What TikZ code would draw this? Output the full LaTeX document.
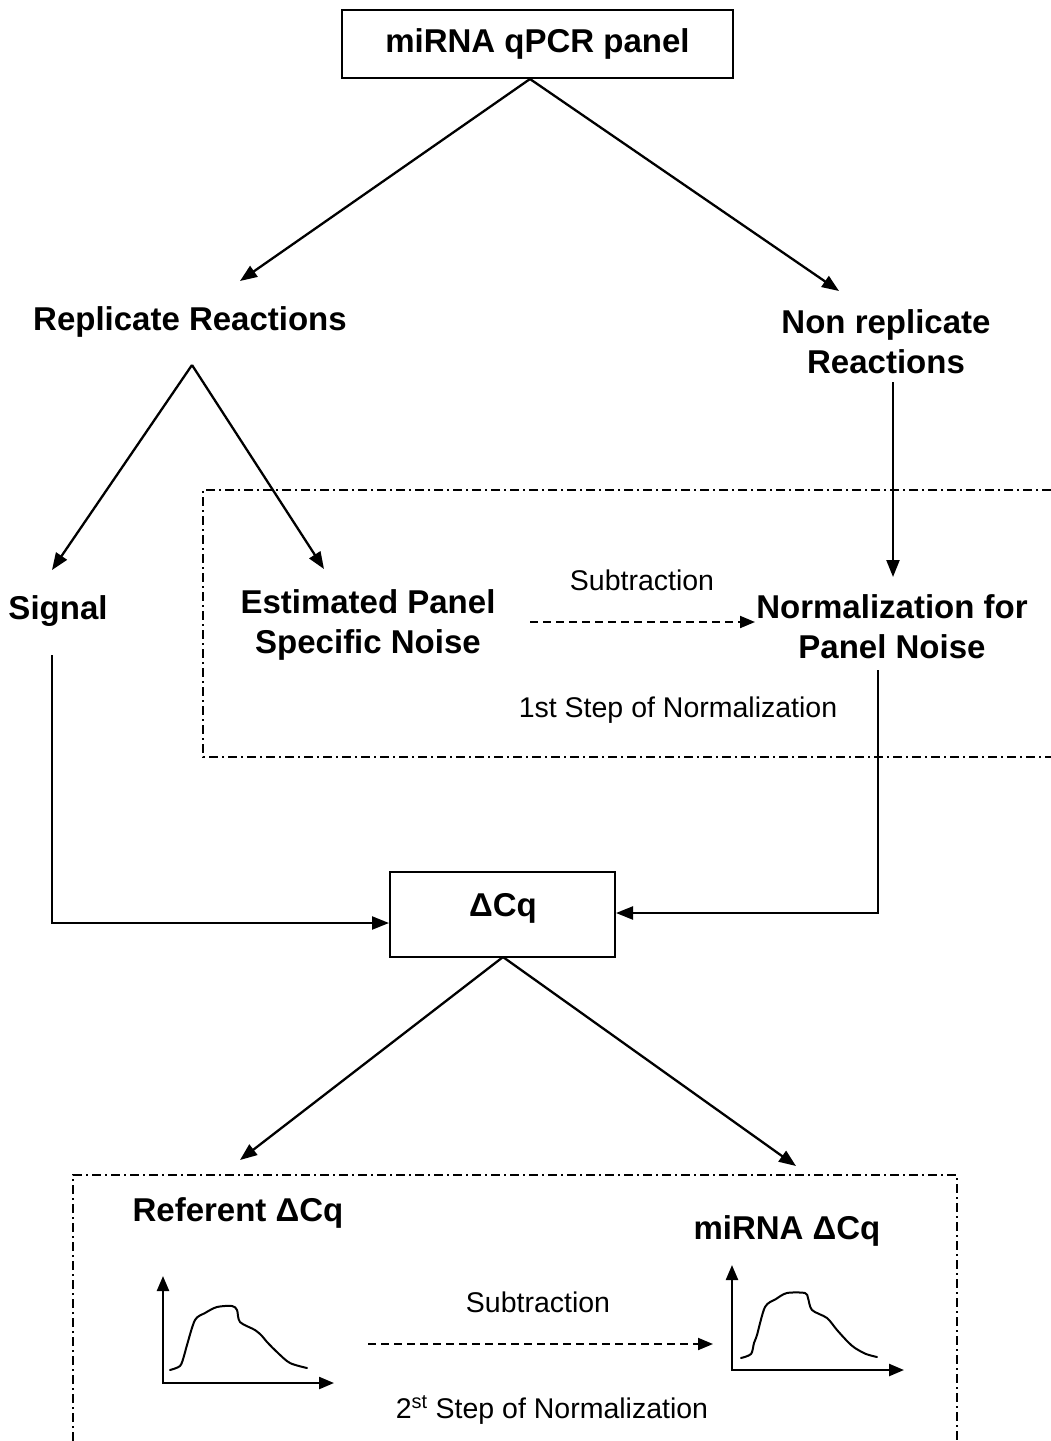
\documentclass[tikz,border=0pt]{standalone}
\usepackage{fontspec}
\setmainfont{Liberation Sans}
\usetikzlibrary{arrows.meta}
\begin{document}
\begin{tikzpicture}[x=1pt,y=-1pt,
  bold/.style={font=\fontsize{33}{40}\selectfont\bfseries, align=center, inner sep=0pt},
  reg/.style={font=\fontsize{28.5}{34}\selectfont, inner sep=0pt},
  arr/.style={line width=2.3pt, -{Triangle[length=17pt,width=13pt]}},
  ln/.style={line width=2.3pt},
  dasharr/.style={line width=2pt, dash pattern=on 8pt off 5pt, -{Triangle[length=15pt,width=12pt]}},
  axarr/.style={line width=2.3pt, -{Triangle[length=15pt,width=12pt]}},
  ddbox/.style={line width=1.8pt, dash pattern=on 9pt off 4pt on 2pt off 4pt},
  boxst/.style={draw, line width=2pt, inner sep=0pt},
  curve/.style={line width=2pt, line cap=round, line join=round}]
\useasboundingbox (0,0) rectangle (1051,1441);

% dash-dot frames
\draw[ddbox] (1051,490) -- (203,490) -- (203,757) -- (1051,757);
\draw[ddbox] (73,1441) -- (73,1175) -- (957,1175) -- (957,1441);

% nodes
\node[boxst, minimum width=391pt, minimum height=68pt] (top) at (537.5,44) {};
\node[bold] (toptext) at (537.5,44) {miRNA qPCR panel};
\node[bold] (rep) at (190,322) {Replicate Reactions};
\node[bold] (nonrep) at (886,342) {Non replicate\\Reactions};
\node[bold] (sig) at (58,611) {Signal};
\node[bold] (est) at (368,625) {Estimated Panel\\Specific Noise};
\node[bold] (norm) at (892,627) {Normalization for\\Panel Noise};
\node[reg] (sub1) at (642,580) {Subtraction};
\node[reg] (step1) at (678,710) {1st Step of Normalization};
\node[boxst, minimum width=225pt, minimum height=85pt] (dcq) at (502.5,914.5) {};
\node[bold] (dcqtext) at (503,908) {ΔCq};
\node[bold] (ref) at (238,1213) {Referent ΔCq};
\node[bold] (mir) at (787,1231) {miRNA ΔCq};
\node[reg] (sub2) at (538,1302) {Subtraction};
\node[reg] (step2) at (552,1410) {2\textsuperscript{st} Step of Normalization};

% coordinates
\coordinate (topapex) at (530,79);
\coordinate (repTip) at (240,281);
\coordinate (nonrepTip) at (839,291);
\coordinate (repapex) at (192,365);
\coordinate (sigTip) at (52,570);
\coordinate (estTip) at (324,569);
\coordinate (nonrepBot) at (893,382);
\coordinate (normTip) at (893,577);
\coordinate (estR) at (530,622);
\coordinate (normL) at (755,622);
\coordinate (sigBot) at (52,655);
\coordinate (normBot) at (878,670);
\coordinate (dcqapex) at (503,957);
\coordinate (refTip) at (240,1160);
\coordinate (mirTip) at (796,1166);
\coordinate (g1R) at (368,1344);
\coordinate (g2L) at (713,1344);

% connectors
\draw[arr] (topapex) -- (repTip);
\draw[arr] (topapex) -- (nonrepTip);
\draw[arr] (repapex) -- (sigTip);
\draw[arr] (repapex) -- (estTip);
\draw[arr] (nonrepBot) -- (normTip);
\draw[dasharr] (estR) -- (normL);
\draw[arr] (sigBot) -- (52,923) -- (dcq.west |- 0,923);
\draw[arr] (normBot) -- (878,913) -- (dcq.east |- 0,913);
\draw[arr] (dcqapex) -- (refTip);
\draw[arr] (dcqapex) -- (mirTip);
\draw[dasharr] (g1R) -- (g2L);

% graph 1
\draw[axarr] (163,1383) -- (163,1276);
\draw[axarr] (162,1383) -- (334,1383);
\draw[curve] plot[smooth, tension=0.5] coordinates {(170,1370) (180,1366) (184,1356) (187,1345) (195,1320) (205,1313) (217,1307) (232,1306) (237,1310) (240,1322) (255,1330) (262,1336) (267,1342) (278,1353) (290,1363) (307,1368)};

% graph 2
\draw[axarr] (732,1370) -- (732,1265);
\draw[axarr] (731,1370) -- (904,1370);
\draw[curve] plot[smooth, tension=0.5] coordinates {(741,1358) (751,1354) (754,1343) (757,1335) (765,1307) (776,1299) (787,1293) (805,1293) (808,1298) (812,1310) (827,1318) (837,1330) (848,1342) (855,1348) (866,1354) (877,1357)};
\end{tikzpicture}
\end{document}
